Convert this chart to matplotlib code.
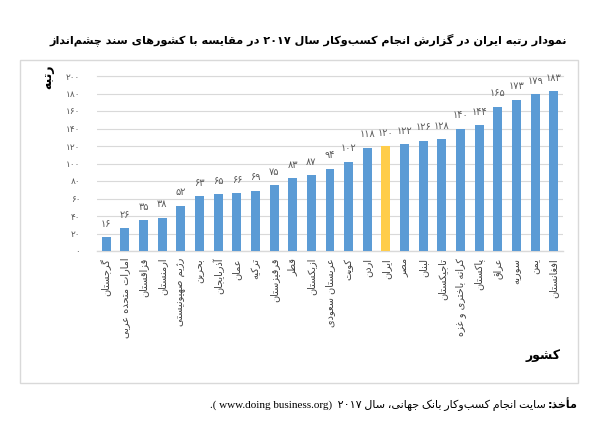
import re
import matplotlib
matplotlib.use("Agg")
import matplotlib.pyplot as plt
from matplotlib.patches import Rectangle

# data
countries = ["گرجستان", "امارات متحده عربی", "قزاقستان", "ارمنستان", "رژیم صهیونیستی",
             "بحرین", "آذربایجان", "عمان", "ترکیه", "قرقیزستان", "قطر", "ازبکستان",
             "عربستان سعودی", "کویت", "اردن", "ایران", "مصر", "لبنان", "تاجیکستان",
             "کرانه باختری و غزه", "پاکستان", "عراق", "سوریه", "یمن", "افغانستان"]
ranks = [16, 26, 35, 38, 52, 63, 65, 66, 69, 75, 83, 87, 94, 102, 118, 120,
         122, 126, 128, 140, 144, 165, 173, 179, 183]
highlight = "ایران"
yticks = list(range(0, 201, 20))

title = "نمودار رتبه ایران در گزارش انجام کسب\u200cوکار سال ۲۰۱۷ در مقایسه با کشورهای سند چشم\u200cانداز"
ylabel = "رتبه"
xlabel = "کشور"
source_head = "مأخذ:"
source_body = "سایت انجام کسب\u200cوکار بانک جهانی، سال"
source_year = "۲۰۱۷"
source_url = ".( www.doing business.org)"

# presentation forms: isolated, final, initial, medial
FORMS = {
    "ا": ("\uFE8D", "\uFE8E", None, None), "آ": ("\uFE81", "\uFE82", None, None),
    "أ": ("\uFE83", "\uFE84", None, None),
    "ب": ("\uFE8F", "\uFE90", "\uFE91", "\uFE92"), "ت": ("\uFE95", "\uFE96", "\uFE97", "\uFE98"),
    "ث": ("\uFE99", "\uFE9A", "\uFE9B", "\uFE9C"), "ج": ("\uFE9D", "\uFE9E", "\uFE9F", "\uFEA0"),
    "ح": ("\uFEA1", "\uFEA2", "\uFEA3", "\uFEA4"), "خ": ("\uFEA5", "\uFEA6", "\uFEA7", "\uFEA8"),
    "د": ("\uFEA9", "\uFEAA", None, None), "ذ": ("\uFEAB", "\uFEAC", None, None),
    "ر": ("\uFEAD", "\uFEAE", None, None), "ز": ("\uFEAF", "\uFEB0", None, None),
    "ژ": ("\uFB8A", "\uFB8B", None, None), "و": ("\uFEED", "\uFEEE", None, None),
    "س": ("\uFEB1", "\uFEB2", "\uFEB3", "\uFEB4"), "ش": ("\uFEB5", "\uFEB6", "\uFEB7", "\uFEB8"),
    "ص": ("\uFEB9", "\uFEBA", "\uFEBB", "\uFEBC"), "ض": ("\uFEBD", "\uFEBE", "\uFEBF", "\uFEC0"),
    "ط": ("\uFEC1", "\uFEC2", "\uFEC3", "\uFEC4"), "ظ": ("\uFEC5", "\uFEC6", "\uFEC7", "\uFEC8"),
    "ع": ("\uFEC9", "\uFECA", "\uFECB", "\uFECC"), "غ": ("\uFECD", "\uFECE", "\uFECF", "\uFED0"),
    "ف": ("\uFED1", "\uFED2", "\uFED3", "\uFED4"), "ق": ("\uFED5", "\uFED6", "\uFED7", "\uFED8"),
    "ل": ("\uFEDD", "\uFEDE", "\uFEDF", "\uFEE0"), "م": ("\uFEE1", "\uFEE2", "\uFEE3", "\uFEE4"),
    "ن": ("\uFEE5", "\uFEE6", "\uFEE7", "\uFEE8"), "ه": ("\uFEE9", "\uFEEA", "\uFEEB", "\uFEEC"),
    "ی": ("\uFBFC", "\uFBFD", "\uFBFE", "\uFBFF"), "پ": ("\uFB56", "\uFB57", "\uFB58", "\uFB59"),
    "چ": ("\uFB7A", "\uFB7B", "\uFB7C", "\uFB7D"), "ک": ("\uFB8E", "\uFB8F", "\uFB90", "\uFB91"),
    "گ": ("\uFB92", "\uFB93", "\uFB94", "\uFB95"),
}


def fa(s):
    # join letters, then put them in display order (digits stay left to right)
    out = []
    for i, c in enumerate(s):
        if c not in FORMS:
            out.append(c)
            continue
        prev = s[i - 1] if i > 0 else ""
        nxt = s[i + 1] if i + 1 < len(s) else ""
        jp = prev in FORMS and FORMS[prev][2] is not None
        jn = nxt in FORMS and FORMS[c][2] is not None
        iso, fin, ini, med = FORMS[c]
        out.append(med if jp and jn else fin if jp else ini if jn else iso)
    vis = "".join(out).replace("\u200c", "")[::-1]
    return re.sub(r"[0-9۰-۹]+", lambda m: m.group()[::-1], vis)


def fa_num(n):
    return str(n).translate(str.maketrans("0123456789", "۰۱۲۳۴۵۶۷۸۹"))


W, H = 604, 421
fig = plt.figure(figsize=(W / 100, H / 100), dpi=100)
fig.patches.append(Rectangle((20 / W, 1 - 383 / H), 558 / W, 323 / H, transform=fig.transFigure,
                             fill=False, edgecolor="#d9d9d9", linewidth=1))

ax = fig.add_axes([97 / W, 170 / H, 466 / W, 175 / H])
x = list(range(len(countries)))
colors = ["#ffcd4a" if c == highlight else "#5b9bd5" for c in countries]
ax.bar(x, ranks, width=0.48, color=colors, zorder=3)

for i, v in enumerate(ranks):
    ax.annotate(fa_num(v), (i, v), xytext=(0, 6), textcoords="offset points",
                ha="center", va="bottom", fontsize=7, color="#595959")

ax.set_xlim(-0.5, len(countries) - 0.5)
ax.set_ylim(0, 200)
ax.set_yticks(yticks)
ax.set_yticklabels([fa_num(t) for t in yticks], fontsize=6.5, color="#595959")
ax.set_xticks(x)
ax.set_xticklabels([fa(c) for c in countries], rotation=90, fontsize=7, color="#404040",
                   va="top", ha="center")
ax.tick_params(axis="both", length=0)
ax.tick_params(axis="y", pad=12)
ax.tick_params(axis="x", pad=5)
ax.grid(axis="y", color="#d9d9d9", linewidth=0.8, zorder=0)
for s in ax.spines.values():
    s.set_visible(False)
ax.axhline(0, color="#d9d9d9", linewidth=1, zorder=2, clip_on=False)
ax.axhline(200, color="#d9d9d9", linewidth=0.8, zorder=0, clip_on=False)

fig.text(308 / W, 1 - 40 / H, fa(title), ha="center", va="center",
         fontsize=8.1, fontweight="bold")
fig.text(48 / W, 1 - 77 / H, fa(ylabel), ha="center", va="center", rotation=90,
         fontsize=9, fontweight="bold")
fig.text(543 / W, 1 - 355 / H, fa(xlabel), ha="center", va="center",
         fontsize=9, fontweight="bold")

head = fig.text(578 / W, 1 - 405 / H, fa(source_head), ha="right", va="center",
                fontsize=8, fontweight="bold")
plt.annotate(source_url + "  " + source_year + " " + fa(source_body) + " ",
             xy=(0, 0), xycoords=head, ha="right", va="bottom", fontsize=8,
             family=["Liberation Serif", "DejaVu Sans"])

fig.savefig("out.png", dpi=100)
